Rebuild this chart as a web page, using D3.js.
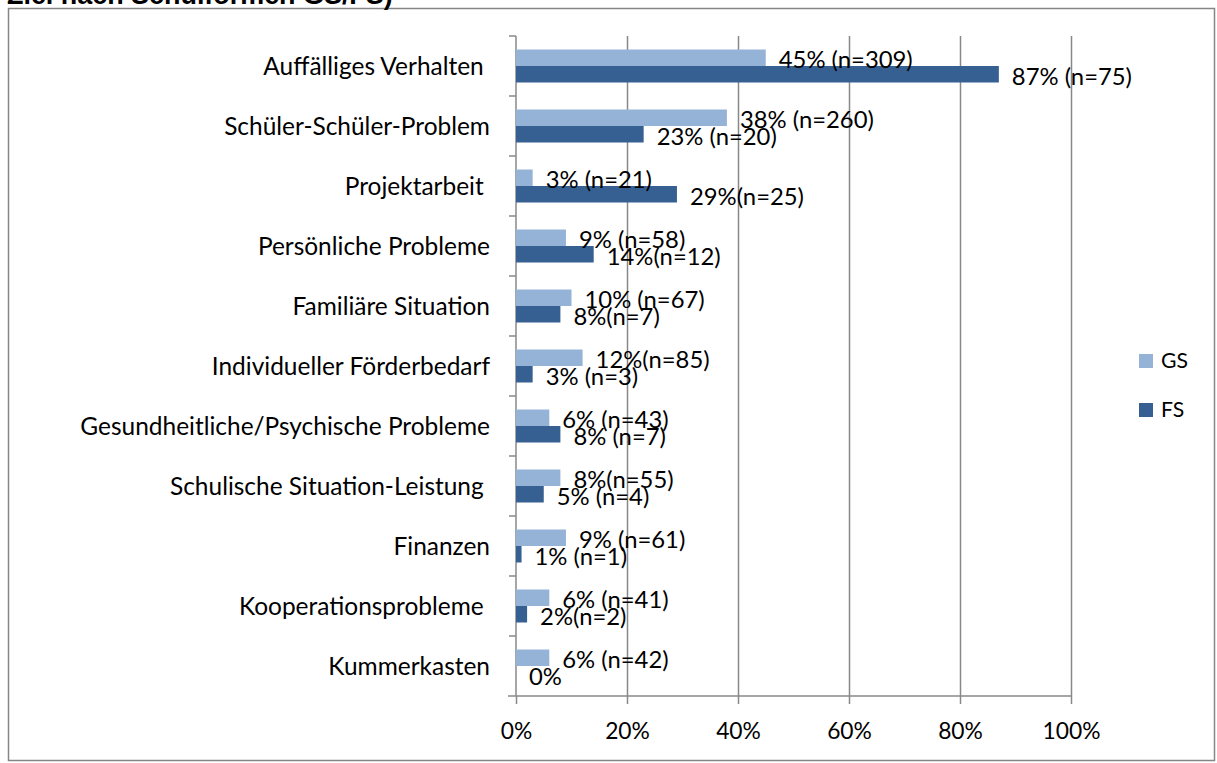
<!DOCTYPE html>
<html>
<head>
<meta charset="utf-8">
<script src="https://cdn.jsdelivr.net/npm/d3@7"></script>
<style>
  body { margin: 0; background: #fff; }
  svg { display: block; }
  text { font-family: Lato, "Open Sans", sans-serif; fill: #000; }
</style>
</head>
<body>
<svg id="chart" width="1217" height="763"></svg>
<script>
// categories (top to bottom)
var categories = [
  'Auffälliges Verhalten ',
  'Schüler-Schüler-Problem',
  'Projektarbeit ',
  'Persönliche Probleme',
  'Familiäre Situation',
  'Individueller Förderbedarf',
  'Gesundheitliche/Psychische Probleme',
  'Schulische Situation-Leistung ',
  'Finanzen',
  'Kooperationsprobleme ',
  'Kummerkasten'
];

var series = ['GS', 'FS'];

// percentages
var gsValues = [45, 38, 3, 9, 10, 12, 6, 8, 9, 6, 6];
var fsValues = [87, 23, 29, 14, 8, 3, 8, 5, 1, 2, 0];

// data labels as printed
var gsLabels = ['45% (n=309)', '38% (n=260)', '3% (n=21)', '9% (n=58)', '10% (n=67)',
  '12%(n=85)', '6% (n=43)', '8%(n=55)', '9% (n=61)', '6% (n=41)', '6% (n=42)'];
var fsLabels = ['87% (n=75)', '23% (n=20)', '29%(n=25)', '14%(n=12)', '8%(n=7)',
  '3% (n=3)', '8% (n=7)', '5% (n=4)', '1% (n=1)', '2%(n=2)', '0%'];

var xTicks = [0, 20, 40, 60, 80, 100];

var colors = { GS: '#95b3d7', FS: '#376092' };
var gridColor = '#888888';

var svg = d3.select('#chart');

// fit a font size so that a sample string gets a given width
function fitSize(sample, width, weight, family) {
  var t = svg.append('text')
    .style('font-size', '100px')
    .style('font-weight', weight || 'normal')
    .style('white-space', 'pre')
    .text(sample);
  if (family) t.style('font-family', family);
  var w = t.node().getComputedTextLength();
  t.remove();
  return 100 * width / w;
}

var catSize = fitSize('Schüler-Schüler-Problem', 266);
var valSize = fitSize('45% (n=309)', 134);
var tickSize = fitSize('100%', 58);
var legSize = fitSize('GS', 27);

// outer chart border
svg.append('rect')
  .attr('x', 8.5).attr('y', 8.5)
  .attr('width', 1206).attr('height', 752)
  .attr('fill', 'none')
  .attr('stroke', '#868686')
  .attr('stroke-width', 1.5);

// title, cut off at the top edge
var titleFont = '"Liberation Sans", Arial, sans-serif';
var titleSize = fitSize('Ziel nach Schulformen GS/FS)', 386, 'bold', titleFont);
svg.append('text')
  .attr('x', 7).attr('y', 3.5)
  .style('font-family', titleFont)
  .style('font-weight', 'bold')
  .style('font-size', titleSize + 'px')
  .text('Ziel nach Schulformen GS/FS)');

var plot = { left: 516, right: 1071, top: 36, bottom: 696 };

var x = d3.scaleLinear().domain([0, 100]).range([plot.left, plot.right]);

var y = d3.scaleBand()
  .domain(categories)
  .range([plot.top, plot.bottom])
  .paddingInner(0.45)
  .paddingOuter(0.225);

var ySub = d3.scaleBand().domain(series).range([0, y.bandwidth()]);

// vertical gridlines
svg.append('g')
  .attr('transform', 'translate(0,' + plot.bottom + ')')
  .call(d3.axisBottom(x).tickValues(xTicks.slice(1)).tickSize(-(plot.bottom - plot.top)).tickFormat(''))
  .call(function(g) {
    g.select('.domain').remove();
    g.selectAll('line').attr('stroke', gridColor).attr('stroke-width', 1.5);
  });

// bottom axis
svg.append('g')
  .attr('transform', 'translate(0,' + plot.bottom + ')')
  .call(d3.axisBottom(x).tickValues(xTicks).tickSize(8).tickFormat(function(d) { return d + '%'; }))
  .call(function(g) {
    g.select('.domain').remove();
    g.selectAll('line').attr('stroke', gridColor).attr('stroke-width', 1.5);
    g.selectAll('text')
      .attr('y', 35).attr('dy', '0.35em')
      .style('font-size', tickSize + 'px')
      .attr('fill', '#000');
  });

svg.append('line')
  .attr('x1', plot.left - 8).attr('x2', plot.right + 0.75)
  .attr('y1', plot.bottom).attr('y2', plot.bottom)
  .attr('stroke', gridColor).attr('stroke-width', 1.5);

// category axis line and boundary ticks
svg.append('line')
  .attr('x1', plot.left).attr('x2', plot.left)
  .attr('y1', plot.top).attr('y2', plot.bottom)
  .attr('stroke', gridColor).attr('stroke-width', 1.5);

svg.append('g').selectAll('line')
  .data(d3.range(categories.length))
  .enter().append('line')
  .attr('x1', plot.left - 7).attr('x2', plot.left)
  .attr('y1', function(i) { return plot.top + i * y.step(); })
  .attr('y2', function(i) { return plot.top + i * y.step(); })
  .attr('stroke', gridColor).attr('stroke-width', 1.5);

// category labels
svg.append('g').selectAll('text')
  .data(categories)
  .enter().append('text')
  .attr('x', 490)
  .attr('y', function(d) { return y(d) + y.bandwidth() / 2; })
  .attr('dy', '0.35em')
  .attr('text-anchor', 'end')
  .style('white-space', 'pre')
  .style('font-size', catSize + 'px')
  .text(function(d) { return d; });

// bars
var rows = categories.map(function(c, i) {
  return { cat: c, GS: gsValues[i], FS: fsValues[i], GSl: gsLabels[i], FSl: fsLabels[i] };
});

series.forEach(function(s) {
  svg.append('g').selectAll('rect')
    .data(rows)
    .enter().append('rect')
    .attr('x', x(0))
    .attr('y', function(d) { return y(d.cat) + ySub(s); })
    .attr('width', function(d) { return x(d[s]) - x(0); })
    .attr('height', ySub.bandwidth())
    .attr('fill', colors[s]);
});

// data labels
series.forEach(function(s) {
  svg.append('g').selectAll('text')
    .data(rows)
    .enter().append('text')
    .attr('x', function(d) { return x(d[s]) + 13; })
    .attr('y', function(d) { return y(d.cat) + ySub(s) + ySub.bandwidth() / 2 + 2; })
    .attr('dy', '0.35em')
    .style('font-size', valSize + 'px')
    .text(function(d) { return d[s + 'l']; });
});

// legend
var legend = svg.append('g').selectAll('g')
  .data(series)
  .enter().append('g')
  .attr('transform', function(d, i) { return 'translate(1139,' + (354 + i * 49) + ')'; });

legend.append('rect')
  .attr('width', 14).attr('height', 14)
  .attr('fill', function(d) { return colors[d]; });

legend.append('text')
  .attr('x', 22).attr('y', 7)
  .attr('dy', '0.35em')
  .style('font-size', legSize + 'px')
  .text(function(d) { return d; });
</script>
</body>
</html>
